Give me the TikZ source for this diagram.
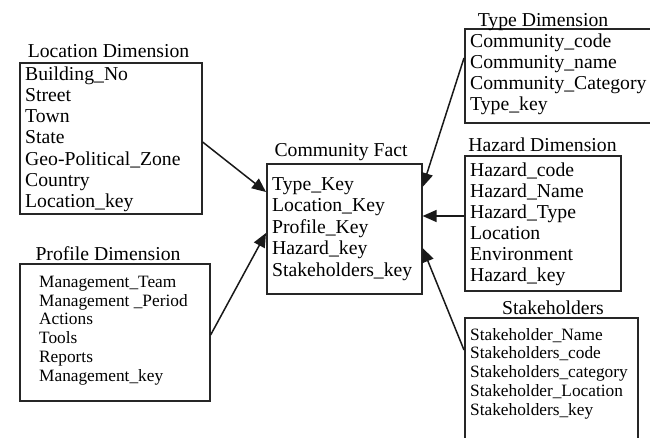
\documentclass[tikz,border=0pt]{standalone}
\usepackage{fontspec}
\setmainfont{Liberation Serif}
\usetikzlibrary{arrows.meta}
\tikzset{
  tbl/.style={draw=black!85, line width=1.6pt, inner sep=0pt, anchor=north west},
  title/.style={anchor=base, inner sep=0pt, font=\fontsize{19.7}{21}\selectfont},
  bigfield/.style={anchor=base west, inner sep=0pt, font=\fontsize{19.7}{21}\selectfont},
  smallfield/.style={anchor=base west, inner sep=0pt, font=\fontsize{17.3}{19}\selectfont},
  link/.style={line width=1.5pt, black!90, -{Triangle[length=14pt,width=12pt]}}
}
\begin{document}
\begin{tikzpicture}[x=1pt,y=-1pt]
\clip (0,0) rectangle (650,437);
\fill[white] (0,0) rectangle (650,437);

% boxes
\node[tbl, minimum width=182pt, minimum height=151pt] (loc) at (19,62) {};
\node[tbl, minimum width=190pt, minimum height=137pt] (prof) at (19,263) {};
\node[tbl, minimum width=155pt, minimum height=130pt] (fact) at (266,163) {};
\node[tbl, minimum width=200pt, minimum height=94pt] (type) at (464,28) {};
\node[tbl, minimum width=156pt, minimum height=135pt] (haz) at (464,155) {};
\node[tbl, minimum width=173pt, minimum height=140pt] (stake) at (464,317) {};

% titles
\node[title] (locT) at (108.5,57) {Location Dimension};
\node[title] (profT) at (108,260.5) {Profile Dimension};
\node[title] (factT) at (341,156.5) {Community Fact};
\node[title] (typeT) at (543,26.5) {Type Dimension};
\node[title] (hazT) at (542.5,151.5) {Hazard Dimension};
\node[title] (stakeT) at (553,314) {Stakeholders};

% fields
\foreach \t [count=\i] in {Building\_No,Street,Town,State,Geo-Political\_Zone,Country,Location\_key}
  \node[bigfield] (loc-\i) at (25,{80+(\i-1)*21.3}) {\t};
\foreach \t [count=\i] in {Management\_Team,Management \_Period,Actions,Tools,Reports,Management\_key}
  \node[smallfield] (prof-\i) at (39,{287.5+(\i-1)*18.7}) {\t};
\foreach \t [count=\i] in {Type\_Key,Location\_Key,Profile\_Key,Hazard\_key,Stakeholders\_key}
  \node[bigfield] (fact-\i) at (272,{190.5+(\i-1)*21.4}) {\t};
\foreach \t [count=\i] in {Community\_code,Community\_name,Community\_Category,Type\_key}
  \node[bigfield] (type-\i) at (470,{47+(\i-1)*21.3}) {\t};
\foreach \t [count=\i] in {Hazard\_code,Hazard\_Name,Hazard\_Type,Location,Environment,Hazard\_key}
  \node[bigfield] (haz-\i) at (470,{176+(\i-1)*21}) {\t};
\foreach \t [count=\i] in {Stakeholder\_Name,Stakeholders\_code,Stakeholders\_category,Stakeholder\_Location,Stakeholders\_key}
  \node[smallfield] (stake-\i) at (470,{340+(\i-1)*18.75}) {\t};

% connectors
\draw[link] ([yshift=-80pt]loc.north east) -- ([yshift=-29pt]fact.north west);
\draw[link] ([yshift=-72pt]prof.north east) -- ([yshift=-70pt]fact.north west);
\draw[link] ([yshift=-30pt]type.north west) -- ([yshift=-24pt]fact.north east);
\draw[link] ([yshift=-61pt]haz.north west) -- ([yshift=-53pt]fact.north east);
\draw[link] ([yshift=-33pt]stake.north west) -- ([yshift=-85pt]fact.north east);
\end{tikzpicture}
\end{document}
